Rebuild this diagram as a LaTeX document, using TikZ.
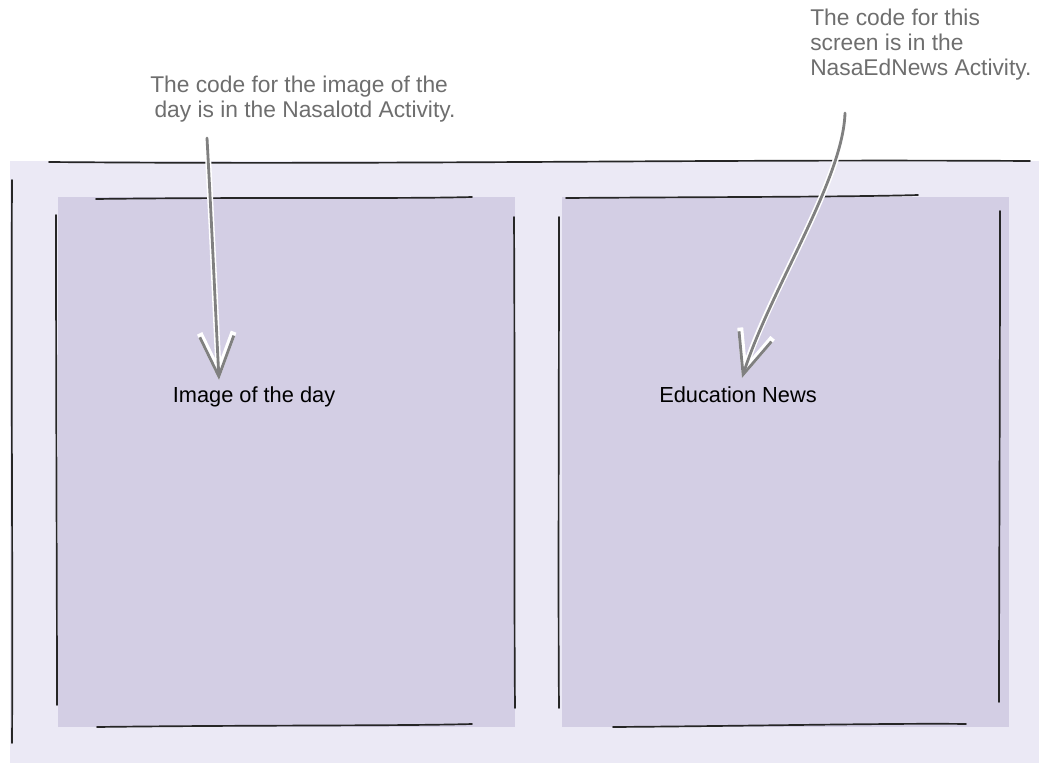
\documentclass[tikz,border=0pt]{standalone}
\usepackage{fontspec}
\setmainfont{Liberation Sans}
\usepackage{tikz}
\usetikzlibrary{positioning,arrows.meta}

\definecolor{screenbg}{HTML}{EBE9F5}
\definecolor{panebg}{HTML}{D3CEE4}
\definecolor{notegray}{HTML}{6E6E6E}
\definecolor{pointergray}{HTML}{808080}

\begin{document}
\begin{tikzpicture}[
    x=0.025cm, y=-0.025cm,
    sketch/.style={draw=black!85, line width=1.2pt, line cap=round},
    note/.style={text=notegray, align=left, inner sep=0pt, anchor=north west, font=\fontsize{16.2}{17.8}\selectfont},
    panelabel/.style={text=black, inner sep=0pt, anchor=base, font=\fontsize{15.5}{18}\selectfont},
    pointer/.style={draw=pointergray, line width=2pt, line cap=round,
        -{Straight Barb[length=10mm, width=8.5mm]},
        preaction={draw=white, line width=4.2pt}}
]
\useasboundingbox (0,0) rectangle (1039,763);

% screen and the two panes
\fill[screenbg] (10,161) rectangle (1039,763);
\fill[panebg] (58,197) rectangle (515,727);
\fill[panebg] (562,197) rectangle (1009,727);

% rough outlines
\draw[sketch] (49,162) .. controls (400,165) and (700,159) .. (1030,161);
\draw[sketch] (12,180) .. controls (11,400) and (13,600) .. (12,743);
\draw[sketch] (96,199) .. controls (250,197) and (400,199) .. (472,197);
\draw[sketch] (56,215) .. controls (56,400) and (57,600) .. (57,705);
\draw[sketch] (514,217) .. controls (515,400) and (514,600) .. (515,708);
\draw[sketch] (97,727) .. controls (250,725) and (400,726) .. (472,724);
\draw[sketch] (566,198) .. controls (700,197) and (850,197) .. (918,195);
\draw[sketch] (559,217) .. controls (559,400) and (558,600) .. (559,708);
\draw[sketch] (1000,211) .. controls (1000,400) and (999,600) .. (999,702);
\draw[sketch] (613,727) .. controls (750,726) and (900,723) .. (966,724);

% labels
\node[panelabel] (imgday) at (254,402) {Image of the day};
\node[panelabel] (ednews) at (738,402) {Education News};

% notes
\node[note] (imgnote) at (150,76) {The code for the image of the\\\hspace*{3pt}day is in the Nasalotd Activity.};
\node[note] (ednote) at (810,9) {The code for this\\screen is in the\\NasaEdNews Activity.};

\coordinate (imgfrom) at (207,138);
\coordinate (imgto) at (219,380);
\coordinate (edfrom) at (845,113);
\coordinate (edto) at (742,378);

\draw[pointer] (imgfrom) .. controls (212,230) and (215,300) .. (imgto);
\draw[pointer] (edfrom) .. controls (843,180) and (770,290) .. (edto);
\end{tikzpicture}
\end{document}
